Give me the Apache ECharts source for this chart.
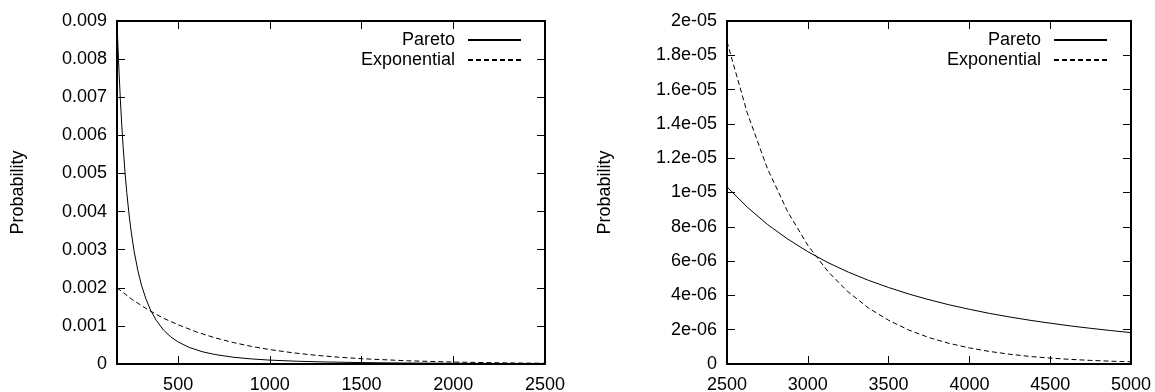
<!DOCTYPE html>
<html>
<head>
<meta charset="utf-8">
<script src="https://cdn.jsdelivr.net/npm/echarts@6/dist/echarts.min.js"></script>
<style>
  html, body { margin: 0; padding: 0; background: #fff; }
  #chart { width: 1155px; height: 392px; }
</style>
</head>
<body>
<div id="chart"></div>
<script>
// left panel: x up to 2500
const leftParetoX = [166.7, 172, 178, 185, 192, 200, 210, 220, 232, 245, 260, 280, 300, 325, 350, 380, 420, 460, 500, 560, 630, 700, 800, 900, 1000, 1150, 1300, 1500, 1750, 2000, 2250, 2500];
const leftParetoY = [0.009, 0.00832, 0.00764, 0.00694, 0.00632, 0.00571, 0.00505, 0.0045, 0.00394, 0.00344, 0.00296, 0.00246, 0.00207, 0.0017, 0.00141, 0.00115, 0.000893, 0.000711, 0.000578, 0.000435, 0.000324, 0.000249, 0.000178, 0.000133, 0.000102, 0.000072, 0.000053, 0.000037, 0.0000252, 0.000018, 0.0000134, 0.0000103];
const leftExpX = [166.7, 250, 330, 420, 500, 600, 700, 800, 900, 1000, 1125, 1250, 1375, 1500, 1750, 2000, 2250, 2500];
const leftExpY = [0.002, 0.00169, 0.00144, 0.0012, 0.00103, 0.000841, 0.000688, 0.000564, 0.000461, 0.000378, 0.000294, 0.000229, 0.000178, 0.000139, 0.0000843, 0.0000511, 0.000031, 0.0000188];

// right panel: 2500 .. 5000
const rightX = [2500, 2625, 2750, 2875, 3000, 3125, 3250, 3375, 3500, 3625, 3750, 3875, 4000, 4125, 4250, 4375, 4500, 4625, 4750, 4875, 5000];
const rightParetoY = [1.033e-5, 9.15e-6, 8.14e-6, 7.29e-6, 6.55e-6, 5.91e-6, 5.36e-6, 4.88e-6, 4.46e-6, 4.08e-6, 3.75e-6, 3.45e-6, 3.19e-6, 2.95e-6, 2.74e-6, 2.55e-6, 2.38e-6, 2.22e-6, 2.08e-6, 1.95e-6, 1.83e-6];
const rightExpY = [1.88e-5, 1.465e-5, 1.14e-5, 8.89e-6, 6.92e-6, 5.39e-6, 4.2e-6, 3.27e-6, 2.55e-6, 1.98e-6, 1.54e-6, 1.2e-6, 9.4e-7, 7.3e-7, 5.7e-7, 4.4e-7, 3.45e-7, 2.7e-7, 2.1e-7, 1.63e-7, 1.27e-7];

const leftXTicks = [500, 1000, 1500, 2000, 2500];
const leftYLabels = ['0', '0.001', '0.002', '0.003', '0.004', '0.005', '0.006', '0.007', '0.008', '0.009'];
const rightYLabels = ['0', '2e-06', '4e-06', '6e-06', '8e-06', '1e-05', '1.2e-05', '1.4e-05', '1.6e-05', '1.8e-05', '2e-05'];

const pairs = (xs, ys) => xs.map((x, i) => [x, ys[i]]);

const FONT = 'Liberation Sans';
const txt = { fontFamily: FONT, fontSize: 18, color: '#000' };
const lineAx = { show: true, onZero: false, lineStyle: { color: '#000', width: 2 } };
const tick = { show: true, inside: true, length: 8, lineStyle: { color: '#000', width: 1 } };

function xAxes(grid, min, max, interval, custom) {
  const base = { type: 'value', gridIndex: grid, min, max, splitLine: { show: false }, axisLine: lineAx };
  if (interval) base.interval = interval;
  const bottom = Object.assign({}, base, {
    position: 'bottom',
    axisTick: Object.assign({}, tick, custom ? { customValues: custom } : {}),
    axisLabel: Object.assign({}, txt, {
      margin: 12, showMinLabel: true, showMaxLabel: true,
      formatter: v => String(v)
    }, custom ? { customValues: custom } : {})
  });
  const top = Object.assign({}, base, {
    position: 'top',
    axisTick: Object.assign({}, tick, custom ? { customValues: custom } : {}),
    axisLabel: { show: false }
  });
  return [bottom, top];
}

function yAxes(grid, max, interval, labels, nameGap) {
  const base = { type: 'value', gridIndex: grid, min: 0, max, interval, splitLine: { show: false }, axisLine: lineAx, axisTick: tick };
  const left = Object.assign({}, base, {
    position: 'left',
    name: 'Probability',
    nameLocation: 'middle',
    nameGap,
    nameTextStyle: txt,
    axisLabel: Object.assign({}, txt, {
      margin: 10, showMinLabel: true, showMaxLabel: true,
      formatter: v => labels[Math.round(v / interval)]
    })
  });
  const right = Object.assign({}, base, { position: 'right', axisLabel: { show: false } });
  return [left, right];
}

function lineSeries(name, data, xi, yi, dashed) {
  return {
    name, type: 'line', data, xAxisIndex: xi, yAxisIndex: yi,
    symbol: 'none', smooth: false, silent: true,
    lineStyle: { color: '#000', width: 1, type: dashed ? [5, 3] : 'solid' },
    itemStyle: { color: '#000' }
  };
}

function legend(name, right, top) {
  return {
    data: [name], orient: 'vertical', align: 'right', right, top, padding: 0,
    itemWidth: 53, itemHeight: 12, selectedMode: false,
    itemStyle: { color: 'rgba(0,0,0,0)', borderColor: 'rgba(0,0,0,0)', borderWidth: 0 },
    textStyle: Object.assign({}, txt, { padding: [0, 8, 0, 0] })
  };
}

const chart = echarts.init(document.getElementById('chart'));
chart.setOption({
  animation: false,
  backgroundColor: '#fff',
  grid: [
    { left: 117, right: 610, top: 21, bottom: 28, outerBoundsMode: 'none', containLabel: false },
    { left: 727, right: 24, top: 21, bottom: 28, outerBoundsMode: 'none', containLabel: false }
  ],
  legend: [
    legend('Pareto', 633, 31),
    legend('Exponential', 633, 51),
    legend('Pareto', 47, 31),
    legend('Exponential', 47, 51)
  ],
  xAxis: [].concat(
    xAxes(0, 166.7, 2500, null, leftXTicks),
    xAxes(1, 2500, 5000, 500, null)
  ),
  yAxis: [].concat(
    yAxes(0, 0.009, 0.001, leftYLabels, 90),
    yAxes(1, 2e-5, 2e-6, rightYLabels, 113)
  ),
  series: [
    lineSeries('Pareto', pairs(leftParetoX, leftParetoY), 0, 0, false),
    lineSeries('Exponential', pairs(leftExpX, leftExpY), 0, 0, true),
    lineSeries('Pareto', pairs(rightX, rightParetoY), 2, 2, false),
    lineSeries('Exponential', pairs(rightX, rightExpY), 2, 2, true)
  ]
});
</script>
</body>
</html>
